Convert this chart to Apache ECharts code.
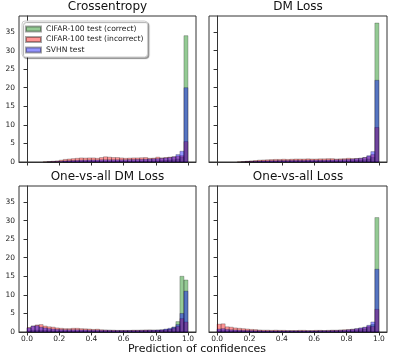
<!DOCTYPE html>
<html>
<head>
<meta charset="utf-8">
<script src="https://cdn.jsdelivr.net/npm/echarts@6/dist/echarts.min.js"></script>
<style>
  html, body { margin: 0; padding: 0; background: #fff; }
  #chart { width: 395px; height: 359px; }
</style>
</head>
<body>
<div id="chart"></div>
<script>
// 40 bins over [0, 1], density values
const nBins = 40
const xTicks = [0, 0.2, 0.4, 0.6, 0.8, 1.0]
const yTicks = [0, 5, 10, 15, 20, 25, 30, 35]
const seriesNames = ['CIFAR-100 test (correct)', 'CIFAR-100 test (incorrect)', 'SVHN test']
const panelTitles = ['Crossentropy', 'DM Loss', 'One-vs-all DM Loss', 'One-vs-all Loss']

const ceCorrect = [0, 0, 0, 0, 0, 0, 0, 0, 0, 0.05, 0.05, 0.05, 0.05, 0.05, 0.1, 0.1, 0.1, 0.1, 0.1, 0.1,
  0.1, 0.1, 0.15, 0.15, 0.15, 0.15, 0.2, 0.2, 0.2, 0.25, 0.25, 0.3, 0.3, 0.35, 0.4, 0.5, 0.6, 0.8, 1.3, 34]
const ceIncorrect = [0, 0, 0, 0, 0.05, 0.1, 0.2, 0.3, 0.5, 0.7, 0.8, 0.9, 1.0, 1.1, 1.05, 1.1, 1.1, 1.0, 1.2, 1.4,
  1.3, 1.2, 1.2, 1.1, 1.0, 1.05, 1.1, 1.1, 1.15, 1.2, 1.0, 1.05, 1.3, 1.1, 1.2, 1.3, 1.4, 1.6, 1.7, 5.5]
const ceSvhn = [0, 0, 0, 0, 0, 0.05, 0.1, 0.15, 0.2, 0.3, 0.35, 0.4, 0.45, 0.5, 0.5, 0.55, 0.55, 0.55, 0.6, 0.6,
  0.6, 0.6, 0.6, 0.6, 0.6, 0.65, 0.65, 0.7, 0.7, 0.75, 0.8, 0.85, 0.9, 1.0, 1.1, 1.2, 1.4, 2.0, 2.9, 20]

const dmCorrect = [0, 0, 0, 0, 0, 0, 0, 0.05, 0.05, 0.05, 0.05, 0.05, 0.05, 0.05, 0.1, 0.1, 0.1, 0.1, 0.1, 0.1,
  0.1, 0.15, 0.15, 0.15, 0.15, 0.2, 0.2, 0.2, 0.2, 0.25, 0.25, 0.3, 0.3, 0.35, 0.4, 0.5, 0.6, 0.8, 1.2, 37.4]
const dmIncorrect = [0, 0, 0, 0, 0, 0.05, 0.1, 0.2, 0.3, 0.4, 0.5, 0.55, 0.6, 0.65, 0.7, 0.7, 0.75, 0.7, 0.75, 0.8,
  0.8, 0.8, 0.85, 0.8, 0.8, 0.85, 0.85, 0.9, 0.9, 0.8, 0.85, 0.9, 1.0, 0.9, 0.95, 1.0, 1.2, 1.5, 2.0, 9.3]
const dmSvhn = [0, 0, 0, 0, 0, 0, 0.05, 0.1, 0.15, 0.2, 0.25, 0.3, 0.3, 0.35, 0.35, 0.4, 0.4, 0.4, 0.45, 0.45,
  0.45, 0.45, 0.5, 0.5, 0.5, 0.5, 0.5, 0.55, 0.55, 0.6, 0.6, 0.65, 0.7, 0.8, 0.9, 1.0, 1.2, 1.7, 2.8, 22]

const ovaDmCorrect = [0.3, 0.5, 0.5, 0.45, 0.4, 0.35, 0.3, 0.3, 0.25, 0.25, 0.2, 0.2, 0.2, 0.2, 0.2, 0.2, 0.2, 0.2, 0.2, 0.2,
  0.2, 0.2, 0.2, 0.2, 0.2, 0.25, 0.25, 0.25, 0.25, 0.3, 0.3, 0.35, 0.4, 0.45, 0.6, 0.8, 1.3, 2.8, 15, 14]
const ovaDmIncorrect = [1.2, 1.6, 1.9, 2.0, 1.6, 1.4, 1.3, 1.1, 1.0, 0.9, 0.9, 1.0, 1.0, 0.9, 0.85, 0.8, 0.7, 0.75, 0.6, 0.55,
  0.5, 0.5, 0.45, 0.45, 0.45, 0.45, 0.5, 0.5, 0.5, 0.55, 0.55, 0.5, 0.5, 0.55, 0.6, 0.7, 1.0, 1.5, 3.6, 2.7]
const ovaDmSvhn = [1.1, 1.6, 1.7, 1.3, 1.1, 0.9, 0.8, 0.7, 0.65, 0.6, 0.6, 0.6, 0.6, 0.55, 0.55, 0.5, 0.5, 0.5, 0.45, 0.45,
  0.45, 0.4, 0.4, 0.4, 0.4, 0.4, 0.4, 0.4, 0.45, 0.45, 0.5, 0.5, 0.55, 0.6, 0.8, 1.0, 1.3, 2.0, 5.0, 11]

const ovaCorrect = [0.3, 0.35, 0.3, 0.25, 0.25, 0.2, 0.2, 0.2, 0.15, 0.15, 0.15, 0.15, 0.15, 0.15, 0.15, 0.15, 0.15, 0.15, 0.15, 0.15,
  0.15, 0.15, 0.15, 0.15, 0.2, 0.2, 0.2, 0.2, 0.2, 0.25, 0.25, 0.3, 0.3, 0.35, 0.45, 0.6, 0.8, 1.2, 2.0, 30.8]
const ovaIncorrect = [2.1, 2.2, 1.4, 1.3, 1.1, 1.0, 0.9, 0.8, 0.7, 0.65, 0.55, 0.5, 0.5, 0.45, 0.5, 0.45, 0.45, 0.4, 0.4, 0.4,
  0.45, 0.45, 0.4, 0.4, 0.45, 0.45, 0.4, 0.45, 0.5, 0.5, 0.55, 0.6, 0.65, 0.75, 0.85, 1.0, 1.2, 1.6, 1.5, 6.1]
const ovaSvhn = [0.8, 0.9, 0.7, 0.6, 0.55, 0.5, 0.45, 0.4, 0.4, 0.35, 0.35, 0.3, 0.3, 0.3, 0.3, 0.3, 0.3, 0.3, 0.3, 0.3,
  0.3, 0.3, 0.3, 0.3, 0.3, 0.35, 0.35, 0.35, 0.4, 0.4, 0.45, 0.5, 0.6, 0.7, 0.9, 1.1, 1.3, 1.8, 2.7, 16.9]

const panels = [
  [ceCorrect, ceIncorrect, ceSvhn],
  [dmCorrect, dmIncorrect, dmSvhn],
  [ovaDmCorrect, ovaDmIncorrect, ovaDmSvhn],
  [ovaCorrect, ovaIncorrect, ovaSvhn]
]

const colors = ['rgba(0,128,0,0.42)', 'rgba(255,0,0,0.42)', 'rgba(0,0,255,0.42)']
const edgeColor = 'rgba(0,0,0,0.35)'
const font = 'DejaVu Sans'

const gridPos = [
  { left: 19, top: 16, width: 177, height: 146 },
  { left: 209, top: 16, width: 178, height: 146 },
  { left: 19, top: 186, width: 177, height: 146 },
  { left: 209, top: 186, width: 178, height: 146 }
]

function binData(values) {
  return values.map((v, i) => [i / nBins, (i + 1) / nBins, v])
}

function renderBin(params, api) {
  const h = api.value(2)
  if (!h) return null
  const p0 = api.coord([api.value(0), 0])
  const p1 = api.coord([api.value(1), h])
  return {
    type: 'rect',
    shape: { x: p0[0], y: p1[1], width: p1[0] - p0[0], height: p0[1] - p1[1] },
    style: { fill: colors[params.seriesIndex % 3], stroke: edgeColor, lineWidth: 0.7 }
  }
}

const grids = gridPos.map(g => ({
  ...g,
  show: true,
  borderColor: '#333',
  borderWidth: 1,
  backgroundColor: 'transparent'
}))

const xAxes = gridPos.map((g, i) => ({
  type: 'value',
  gridIndex: i,
  min: -0.05,
  max: 1.05,
  splitLine: { show: false },
  axisLine: { show: true, onZero: false, lineStyle: { color: '#333', width: 1 } },
  axisTick: { show: true, length: 3.5, customValues: xTicks, lineStyle: { color: '#333' } },
  axisLabel: {
    show: i >= 2,
    customValues: xTicks,
    formatter: v => v.toFixed(1),
    fontSize: 7.5,
    fontFamily: font,
    color: '#222',
    margin: 3
  }
}))

const yAxes = gridPos.map((g, i) => ({
  type: 'value',
  gridIndex: i,
  min: 0,
  max: 39.3,
  splitLine: { show: false },
  axisLine: { show: true, lineStyle: { color: '#333', width: 1 } },
  axisTick: { show: true, length: 3.5, customValues: yTicks, lineStyle: { color: '#333' } },
  axisLabel: {
    show: i % 2 === 0,
    customValues: yTicks,
    fontSize: 7.5,
    fontFamily: font,
    color: '#222',
    margin: 4
  }
}))

const series = []
panels.forEach((panel, p) => {
  panel.forEach((values, s) => {
    series.push({
      type: 'custom',
      name: seriesNames[s],
      xAxisIndex: p,
      yAxisIndex: p,
      renderItem: renderBin,
      encode: { x: [0, 1], y: 2 },
      itemStyle: { color: colors[s], borderColor: edgeColor, borderWidth: 0.7 },
      data: binData(values)
    })
  })
})

const titles = panelTitles.map((t, i) => ({
  text: t,
  left: gridPos[i].left + gridPos[i].width / 2,
  top: gridPos[i].top - 15,
  textAlign: 'center',
  padding: 0,
  textStyle: { fontSize: 12, fontWeight: 'normal', fontFamily: font, color: '#111' }
}))
titles.push({
  text: 'Prediction of confidences',
  left: 197,
  top: 344,
  textAlign: 'center',
  padding: 0,
  textStyle: { fontSize: 11, fontWeight: 'normal', fontFamily: font, color: '#111' }
})

const chart = echarts.init(document.getElementById('chart'))
chart.setOption({
  animation: false,
  title: titles,
  legend: {
    data: seriesNames,
    orient: 'vertical',
    left: 22,
    top: 21,
    itemWidth: 15,
    itemHeight: 5,
    itemGap: 2.5,
    icon: 'rect',
    padding: [4, 4, 3, 3],
    backgroundColor: '#fff',
    borderColor: '#ccc',
    borderWidth: 1,
    borderRadius: 3,
    shadowColor: 'rgba(0,0,0,0.35)',
    shadowOffsetX: 1.5,
    shadowOffsetY: 1.5,
    shadowBlur: 1,
    textStyle: { fontSize: 7.6, fontFamily: font, color: '#222' }
  },
  grid: grids,
  xAxis: xAxes,
  yAxis: yAxes,
  series: series
})
</script>
</body>
</html>
